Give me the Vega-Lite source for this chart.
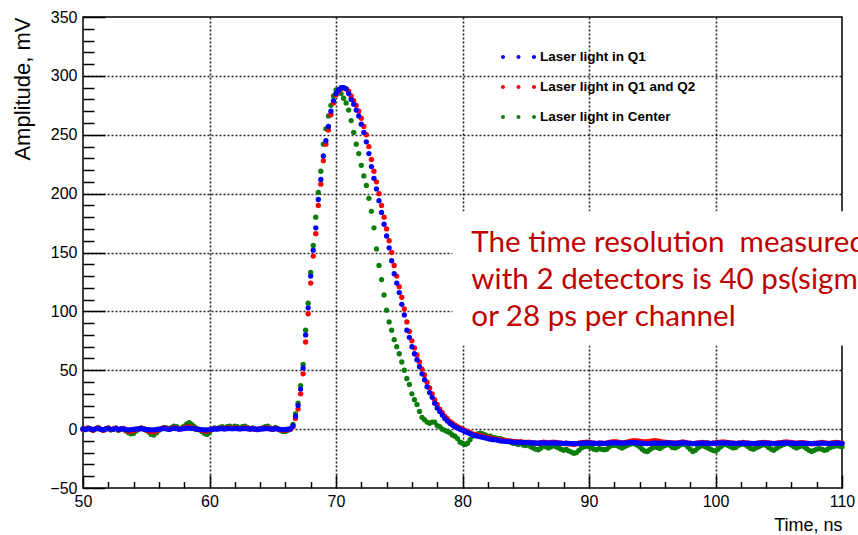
{
"$schema": "https://vega.github.io/schema/vega-lite/v6.json",
"width": 759, "height": 471,
"autosize": {"type": "none"},
"padding": {"left": 83, "top": 17, "right": 16, "bottom": 47},
"background": "white",
"config": {"view": {"stroke": "black", "strokeWidth": 1.5},
  "axis": {"labelFont": "Liberation Sans", "titleFont": "Liberation Sans", "labelColor": "black", "titleColor": "black", "tickColor": "black", "domain": false, "labelFlush": false, "labelOverlap": false, "labelBound": false}},
"datasets": {"w": [
{"t":50,"a":0.2,"b":-0.4,"c":0.5},{"t":50.2,"a":-0.3,"b":0.5,"c":-0.5},{"t":50.4,"a":0.4,"b":0.8,"c":1},{"t":50.6,"a":0.1,"b":-0.2,"c":0},{"t":50.8,"a":-0.4,"b":-0.9,"c":-1},
{"t":51,"a":0.3,"b":0.4,"c":0.5},{"t":51.2,"a":0.5,"b":1,"c":1.5},{"t":51.4,"a":-0.1,"b":-0.3,"c":0},{"t":51.6,"a":-0.5,"b":-1.1,"c":-1},{"t":51.8,"a":0.2,"b":0.2,"c":0.5},
{"t":52,"a":0.4,"b":0.9,"c":1},{"t":52.2,"a":-0.2,"b":-0.6,"c":-0.5},{"t":52.4,"a":0,"b":0.3,"c":0},{"t":52.6,"a":0.5,"b":0.7,"c":1},{"t":52.8,"a":-0.3,"b":-0.8,"c":-1},
{"t":53,"a":0.1,"b":0.1,"c":0},{"t":53.2,"a":0.3,"b":0.6,"c":0.5},{"t":53.4,"a":-0.4,"b":-1,"c":-1.5},{"t":53.6,"a":-0.6,"b":-1.5,"c":-3},{"t":53.8,"a":-0.5,"b":-1.8,"c":-4},
{"t":54,"a":-0.2,"b":-1.2,"c":-3.5},{"t":54.2,"a":0.1,"b":-0.4,"c":-1.5},{"t":54.4,"a":0.3,"b":0.3,"c":0},{"t":54.6,"a":0.4,"b":0.8,"c":1},{"t":54.8,"a":0,"b":0.2,"c":0.5},
{"t":55,"a":-0.3,"b":-0.7,"c":-1},{"t":55.2,"a":-0.5,"b":-1.4,"c":-2.5},{"t":55.4,"a":-0.7,"b":-2,"c":-4.5},{"t":55.6,"a":-0.6,"b":-2.2,"c":-5},{"t":55.8,"a":-0.3,"b":-1.3,"c":-3},
{"t":56,"a":0,"b":-0.4,"c":-1},{"t":56.2,"a":0.3,"b":0.5,"c":0.5},{"t":56.4,"a":0.5,"b":1,"c":1.5},{"t":56.6,"a":0.2,"b":0.6,"c":1},{"t":56.8,"a":-0.1,"b":-0.2,"c":0},
{"t":57,"a":0.3,"b":0.7,"c":1.5},{"t":57.2,"a":0.6,"b":1.2,"c":2.5},{"t":57.4,"a":0.4,"b":0.9,"c":2},{"t":57.6,"a":0,"b":0.1,"c":0.5},{"t":57.8,"a":0.2,"b":0.5,"c":1},
{"t":58,"a":0.5,"b":1.1,"c":2.5},{"t":58.2,"a":0.8,"b":1.6,"c":4.5},{"t":58.4,"a":0.9,"b":1.8,"c":5.5},{"t":58.6,"a":0.6,"b":1.3,"c":4},{"t":58.8,"a":0.3,"b":0.6,"c":2},
{"t":59,"a":0,"b":0,"c":0.5},{"t":59.2,"a":-0.2,"b":-0.5,"c":-0.5},{"t":59.4,"a":-0.4,"b":-1,"c":-2},{"t":59.6,"a":-0.6,"b":-1.4,"c":-3.5},{"t":59.8,"a":-0.7,"b":-1.6,"c":-4.5},
{"t":60,"a":-0.4,"b":-0.9,"c":-2.5},{"t":60.2,"a":-0.1,"b":-0.2,"c":-0.5},{"t":60.4,"a":0.2,"b":0.4,"c":1},{"t":60.6,"a":0.1,"b":0.2,"c":0.5},{"t":60.8,"a":0.3,"b":0.7,"c":1.5},
{"t":61,"a":0.4,"b":0.9,"c":2},{"t":61.2,"a":0.2,"b":0.4,"c":1},{"t":61.4,"a":0.4,"b":0.8,"c":2},{"t":61.6,"a":0.5,"b":1.1,"c":2.5},{"t":61.8,"a":0.3,"b":0.6,"c":1.5},
{"t":62,"a":0.5,"b":1,"c":2.5},{"t":62.2,"a":0.4,"b":0.9,"c":2},{"t":62.4,"a":0.2,"b":0.4,"c":1},{"t":62.6,"a":0.4,"b":0.8,"c":2},{"t":62.8,"a":0.5,"b":1.2,"c":2.5},
{"t":63,"a":0.3,"b":0.6,"c":1.5},{"t":63.2,"a":0.1,"b":0.2,"c":0.5},{"t":63.4,"a":0.2,"b":0.4,"c":1},{"t":63.6,"a":0,"b":-0.1,"c":0},{"t":63.8,"a":-0.1,"b":-0.3,"c":-0.5},
{"t":64,"a":0.1,"b":0.2,"c":0.5},{"t":64.2,"a":0.2,"b":0.5,"c":1},{"t":64.4,"a":0.4,"b":0.8,"c":2},{"t":64.6,"a":0.5,"b":1,"c":2.5},{"t":64.8,"a":0.2,"b":0.4,"c":1},
{"t":65,"a":0,"b":0,"c":0},{"t":65.2,"a":0.3,"b":0.6,"c":1.5},{"t":65.4,"a":0.1,"b":0.2,"c":0.5},{"t":65.6,"a":-0.2,"b":-0.5,"c":-1},{"t":65.8,"a":-0.4,"b":-0.9,"c":-2},
{"t":66,"a":-0.3,"b":-0.8,"c":-2},{"t":66.2,"a":-0.1,"b":-0.3,"c":-1},
{"t":66.4,"a":0.5,"b":0,"c":0},{"t":66.6,"a":3,"b":2,"c":4},{"t":66.8,"a":11,"b":9,"c":13},
{"t":67,"a":20,"b":17,"c":22},{"t":67.2,"a":34,"b":30,"c":37},{"t":67.4,"a":52,"b":47,"c":55},{"t":67.6,"a":80,"b":74,"c":84},{"t":67.8,"a":103,"b":98,"c":107},
{"t":68,"a":130,"b":124,"c":133},{"t":68.2,"a":152,"b":147,"c":156},{"t":68.4,"a":171,"b":166,"c":180},{"t":68.6,"a":195,"b":190,"c":201},{"t":68.8,"a":212,"b":208,"c":219},
{"t":69,"a":232,"b":228,"c":242},{"t":69.2,"a":245,"b":242,"c":255},{"t":69.4,"a":257,"b":254,"c":266},{"t":69.6,"a":270,"b":267,"c":275},{"t":69.8,"a":279,"b":277,"c":283},
{"t":70,"a":285,"b":284,"c":288},{"t":70.2,"a":288,"b":287,"c":288},{"t":70.4,"a":290,"b":289,"c":285},{"t":70.6,"a":290,"b":290,"c":281},{"t":70.8,"a":289,"b":289,"c":277},
{"t":71,"a":285,"b":287,"c":271},{"t":71.2,"a":280,"b":283,"c":262},{"t":71.4,"a":276,"b":279,"c":252},{"t":71.6,"a":271,"b":275,"c":242},{"t":71.8,"a":266,"b":270,"c":234},
{"t":72,"a":259,"b":264,"c":224},{"t":72.2,"a":252,"b":257,"c":215},{"t":72.4,"a":244,"b":250,"c":207},{"t":72.6,"a":234,"b":240,"c":196},{"t":72.8,"a":223,"b":229,"c":185},
{"t":73,"a":213,"b":219,"c":171},{"t":73.2,"a":204,"b":210,"c":153},{"t":73.4,"a":194,"b":200,"c":139},{"t":73.6,"a":184,"b":190,"c":127},{"t":73.8,"a":174,"b":180,"c":114},
{"t":74,"a":164,"b":170,"c":101},{"t":74.2,"a":154,"b":160,"c":91},{"t":74.4,"a":143,"b":150,"c":84},{"t":74.6,"a":132,"b":139,"c":76},{"t":74.8,"a":124,"b":130,"c":70},
{"t":75,"a":116,"b":121,"c":64},{"t":75.2,"a":106,"b":112,"c":57},{"t":75.4,"a":97,"b":102,"c":50},{"t":75.6,"a":84,"b":91,"c":43},{"t":75.8,"a":78,"b":83,"c":38},
{"t":76,"a":70,"b":75,"c":30},{"t":76.2,"a":64,"b":69,"c":25},{"t":76.4,"a":59,"b":63,"c":21},{"t":76.6,"a":53,"b":57,"c":15},{"t":76.8,"a":47,"b":51,"c":10},
{"t":77,"a":42,"b":46,"c":8},{"t":77.2,"a":36,"b":40,"c":6},{"t":77.4,"a":31,"b":35,"c":5},{"t":77.6,"a":27,"b":30,"c":6},{"t":77.8,"a":22,"b":25,"c":6},
{"t":78,"a":18,"b":21,"c":3},{"t":78.2,"a":15,"b":17,"c":2},{"t":78.4,"a":12,"b":14,"c":0},{"t":78.6,"a":9,"b":11,"c":-1},{"t":78.8,"a":7,"b":9,"c":-2},
{"t":79,"a":5,"b":6.5,"c":-3},{"t":79.2,"a":3.5,"b":5,"c":-5},{"t":79.4,"a":2,"b":3.5,"c":-6},{"t":79.6,"a":1,"b":2,"c":-8},{"t":79.8,"a":0,"b":1,"c":-11},
{"t":80,"a":-1,"b":0,"c":-12},{"t":80.2,"a":-2,"b":-1,"c":-13},{"t":80.4,"a":-3,"b":-2,"c":-12},{"t":80.6,"a":-4,"b":-3,"c":-9},{"t":80.8,"a":-5,"b":-4,"c":-6},
{"t":81,"a":-5.5,"b":-4.5,"c":-5},{"t":81.2,"a":-6,"b":-5,"c":-4},{"t":81.4,"a":-6.5,"b":-5.5,"c":-3.5},{"t":81.6,"a":-7,"b":-6,"c":-4},{"t":81.8,"a":-7.5,"b":-6.5,"c":-5},
{"t":82,"a":-8,"b":-7,"c":-6},{"t":82.2,"a":-8.5,"b":-7.5,"c":-6},{"t":82.4,"a":-9,"b":-8,"c":-7},{"t":82.6,"a":-9,"b":-8.5,"c":-7.5},{"t":82.8,"a":-9.5,"b":-9,"c":-8},
{"t":83,"a":-10,"b":-9,"c":-8},{"t":83.2,"a":-10.2,"b":-9.4,"c":-9},{"t":83.4,"a":-10.4,"b":-9.7,"c":-9.5},{"t":83.6,"a":-10.6,"b":-10,"c":-10},{"t":83.8,"a":-10.8,"b":-10.2,"c":-11},
{"t":84,"a":-11,"b":-10.4,"c":-12},{"t":84.2,"a":-11.1,"b":-10.6,"c":-12},{"t":84.4,"a":-11.2,"b":-10.9,"c":-13},{"t":84.6,"a":-11.2,"b":-10.7,"c":-12},{"t":84.8,"a":-11.4,"b":-11,"c":-13.5},
{"t":85,"a":-11.5,"b":-11.2,"c":-14},{"t":85.2,"a":-11.4,"b":-11.1,"c":-13},{"t":85.4,"a":-11.6,"b":-11.3,"c":-15},{"t":85.6,"a":-11.7,"b":-11.6,"c":-16},{"t":85.8,"a":-11.8,"b":-11.9,"c":-17},
{"t":86,"a":-11.9,"b":-12,"c":-17.5},{"t":86.2,"a":-11.8,"b":-11.5,"c":-16},{"t":86.4,"a":-11.6,"b":-11,"c":-14},{"t":86.6,"a":-11.7,"b":-11.2,"c":-15},{"t":86.8,"a":-11.9,"b":-11.6,"c":-16},
{"t":87,"a":-11.8,"b":-11.3,"c":-15},{"t":87.2,"a":-11.6,"b":-11,"c":-14},{"t":87.4,"a":-11.8,"b":-11.3,"c":-15},{"t":87.6,"a":-11.9,"b":-11.7,"c":-16},{"t":87.8,"a":-12,"b":-12,"c":-17},
{"t":88,"a":-12.1,"b":-12.3,"c":-18},{"t":88.2,"a":-12,"b":-12,"c":-17},{"t":88.4,"a":-12.2,"b":-12.4,"c":-18.5},{"t":88.6,"a":-12.3,"b":-12.7,"c":-19.5},{"t":88.8,"a":-12.4,"b":-12.9,"c":-20.5},
{"t":89,"a":-12.3,"b":-12.6,"c":-20},{"t":89.2,"a":-12.1,"b":-12,"c":-18},{"t":89.4,"a":-11.9,"b":-11.5,"c":-16},{"t":89.6,"a":-11.8,"b":-11.2,"c":-15},{"t":89.8,"a":-11.7,"b":-11,"c":-14.5},
{"t":90,"a":-11.8,"b":-11.3,"c":-15},{"t":90.2,"a":-11.9,"b":-11.7,"c":-16},{"t":90.4,"a":-12,"b":-12,"c":-17},{"t":90.6,"a":-12.1,"b":-12.2,"c":-17.5},{"t":90.8,"a":-12,"b":-11.9,"c":-16.5},
{"t":91,"a":-12,"b":-12,"c":-17},{"t":91.2,"a":-12.1,"b":-12.2,"c":-17.5},{"t":91.4,"a":-12,"b":-12,"c":-17},{"t":91.6,"a":-11.8,"b":-11.3,"c":-15},{"t":91.8,"a":-11.6,"b":-10.9,"c":-14},
{"t":92,"a":-11.5,"b":-10.6,"c":-13.5},{"t":92.2,"a":-11.6,"b":-10.9,"c":-14},{"t":92.4,"a":-11.8,"b":-11.3,"c":-15},{"t":92.6,"a":-11.9,"b":-11.7,"c":-16},{"t":92.8,"a":-11.8,"b":-11.4,"c":-15},
{"t":93,"a":-11.6,"b":-11,"c":-14},{"t":93.2,"a":-11.5,"b":-10.5,"c":-13},{"t":93.4,"a":-11.4,"b":-10,"c":-12},{"t":93.6,"a":-11.5,"b":-9.8,"c":-12.5},{"t":93.8,"a":-11.6,"b":-10,"c":-13.5},
{"t":94,"a":-11.8,"b":-10.3,"c":-15},{"t":94.2,"a":-12,"b":-10.6,"c":-17},{"t":94.4,"a":-12.2,"b":-10.9,"c":-18.5},{"t":94.6,"a":-12.3,"b":-10.7,"c":-19},{"t":94.8,"a":-12.1,"b":-10.4,"c":-17.5},
{"t":95,"a":-11.9,"b":-10,"c":-16},{"t":95.2,"a":-11.8,"b":-9.8,"c":-15},{"t":95.4,"a":-11.9,"b":-10.1,"c":-15.5},{"t":95.6,"a":-12,"b":-10.5,"c":-16.5},{"t":95.8,"a":-11.9,"b":-10.8,"c":-15},
{"t":96,"a":-11.8,"b":-11,"c":-14},{"t":96.2,"a":-11.6,"b":-11.2,"c":-13},{"t":96.4,"a":-11.7,"b":-11.4,"c":-14},{"t":96.6,"a":-11.9,"b":-11.7,"c":-15.5},{"t":96.8,"a":-12,"b":-12,"c":-16},
{"t":97,"a":-11.9,"b":-11.6,"c":-15},{"t":97.2,"a":-11.7,"b":-11.2,"c":-13.5},{"t":97.4,"a":-11.6,"b":-10.9,"c":-12.5},{"t":97.6,"a":-11.7,"b":-11.2,"c":-13},{"t":97.8,"a":-11.9,"b":-11.6,"c":-15},
{"t":98,"a":-12.1,"b":-12,"c":-17},{"t":98.2,"a":-12.3,"b":-12.4,"c":-19},{"t":98.4,"a":-12.2,"b":-12.1,"c":-18},{"t":98.6,"a":-12,"b":-11.7,"c":-16},{"t":98.8,"a":-11.9,"b":-11.4,"c":-14.5},
{"t":99,"a":-11.8,"b":-11.2,"c":-14},{"t":99.2,"a":-11.9,"b":-11.5,"c":-15},{"t":99.4,"a":-12,"b":-11.8,"c":-16},{"t":99.6,"a":-12.1,"b":-12.1,"c":-17},{"t":99.8,"a":-12,"b":-11.9,"c":-18},
{"t":100,"a":-11.9,"b":-11.6,"c":-18.5},{"t":100.2,"a":-11.8,"b":-11.3,"c":-17},{"t":100.4,"a":-11.7,"b":-11,"c":-15},{"t":100.6,"a":-11.6,"b":-10.8,"c":-13.5},{"t":100.8,"a":-11.7,"b":-11.1,"c":-13},
{"t":101,"a":-11.8,"b":-11.4,"c":-14},{"t":101.2,"a":-11.9,"b":-11.7,"c":-15},{"t":101.4,"a":-12,"b":-12,"c":-16},{"t":101.6,"a":-12.1,"b":-12.2,"c":-15.5},{"t":101.8,"a":-12,"b":-11.9,"c":-14},
{"t":102,"a":-11.9,"b":-11.6,"c":-13},{"t":102.2,"a":-11.8,"b":-11.3,"c":-12.5},{"t":102.4,"a":-11.9,"b":-11.6,"c":-13.5},{"t":102.6,"a":-12,"b":-11.9,"c":-15},{"t":102.8,"a":-12.1,"b":-12.2,"c":-16.5},
{"t":103,"a":-12.2,"b":-12.4,"c":-17},{"t":103.2,"a":-12.1,"b":-12.1,"c":-16},{"t":103.4,"a":-12,"b":-11.8,"c":-15},{"t":103.6,"a":-11.9,"b":-11.5,"c":-14},{"t":103.8,"a":-11.8,"b":-11.2,"c":-13},
{"t":104,"a":-11.9,"b":-11.4,"c":-14},{"t":104.2,"a":-12,"b":-11.7,"c":-15.5},{"t":104.4,"a":-12.1,"b":-12,"c":-17},{"t":104.6,"a":-12.2,"b":-12.3,"c":-18},{"t":104.8,"a":-12.1,"b":-12,"c":-16.5},
{"t":105,"a":-12,"b":-11.7,"c":-15},{"t":105.2,"a":-11.9,"b":-11.4,"c":-14},{"t":105.4,"a":-11.8,"b":-11.1,"c":-13},{"t":105.6,"a":-11.7,"b":-10.8,"c":-12},{"t":105.8,"a":-11.8,"b":-11,"c":-12.5},
{"t":106,"a":-11.9,"b":-11.3,"c":-13.5},{"t":106.2,"a":-12,"b":-11.6,"c":-15},{"t":106.4,"a":-12.1,"b":-11.9,"c":-16},{"t":106.6,"a":-12,"b":-11.7,"c":-15},{"t":106.8,"a":-11.9,"b":-11.4,"c":-14},
{"t":107,"a":-12,"b":-11.7,"c":-15},{"t":107.2,"a":-12.1,"b":-12,"c":-16.5},{"t":107.4,"a":-12.2,"b":-12.3,"c":-18},{"t":107.6,"a":-12.3,"b":-12.5,"c":-19},{"t":107.8,"a":-12.2,"b":-12.2,"c":-18},
{"t":108,"a":-12.1,"b":-11.9,"c":-17},{"t":108.2,"a":-12,"b":-11.6,"c":-16.5},{"t":108.4,"a":-11.9,"b":-11.3,"c":-17},{"t":108.6,"a":-12,"b":-11.6,"c":-18},{"t":108.8,"a":-12.1,"b":-11.9,"c":-17.5},
{"t":109,"a":-12.2,"b":-12.1,"c":-16},{"t":109.2,"a":-12.1,"b":-11.8,"c":-15},{"t":109.4,"a":-12,"b":-11.5,"c":-14.5},{"t":109.6,"a":-11.9,"b":-11.3,"c":-14},{"t":109.8,"a":-12,"b":-11.6,"c":-14.5},
{"t":110,"a":-12.1,"b":-11.9,"c":-15}
]},
"layer": [
 {"data": {"name": "w"}, "transform": [{"fold": ["c"], "as": ["key", "v"]}],
  "mark": {"type": "point", "filled": true, "size": 28, "opacity": 1},
  "encoding": {
   "x": {"field": "t", "type": "quantitative", "scale": {"domain": [50, 110], "nice": false, "zero": false},
    "axis": {"values": [50,52,54,56,58,60,62,64,66,68,70,72,74,76,78,80,82,84,86,88,90,92,94,96,98,100,102,104,106,108,110],
     "tickCount": 200, "format": "d",
     "labelExpr": "datum.value % 10 === 0 ? datum.label : ''",
     "labelOverlap": false, "labelFlush": false, "labelBound": false,
     "tickSize": {"condition": {"test": "datum.value % 10 === 0", "value": -13}, "value": -6.5},
     "tickWidth": 1.5,
     "grid": true, "gridColor": "black", "gridDash": [2, 2], "gridWidth": 1.6,
     "gridOpacity": {"condition": {"test": "datum.value % 10 === 0 && datum.value > 50 && datum.value < 110", "value": 0.85}, "value": 0},
     "labelFontSize": 16, "labelPadding": 18,
     "title": "Time, ns", "titleFontSize": 18, "titleFontWeight": "normal", "titleAnchor": "end", "titleAlign": "right", "titleBaseline": "alphabetic", "titleX": 759, "titleY": 42}},
   "y": {"field": "v", "type": "quantitative", "scale": {"domain": [-50, 350], "nice": false, "zero": false},
    "axis": {"values": [-50,-40,-30,-20,-10,0,10,20,30,40,50,60,70,80,90,100,110,120,130,140,150,160,170,180,190,200,210,220,230,240,250,260,270,280,290,300,310,320,330,340,350],
     "tickCount": 200, "format": "d",
     "labelExpr": "datum.value % 50 === 0 ? datum.label : ''",
     "labelOverlap": false, "labelFlush": false, "labelBound": false,
     "tickSize": {"condition": {"test": "datum.value % 50 === 0", "value": -22}, "value": -11},
     "tickWidth": 1.5,
     "grid": true, "gridColor": "black", "gridDash": [2, 2], "gridWidth": 1.6,
     "gridOpacity": {"condition": {"test": "datum.value % 50 === 0 && datum.value > -50 && datum.value < 350", "value": 0.85}, "value": 0},
     "labelFontSize": 16, "labelPadding": 28,
     "title": "Amplitude, mV", "titleFontSize": 22, "titleFontWeight": "normal", "titleAngle": -90, "titleAlign": "right", "titleBaseline": "alphabetic", "titleX": -54, "titleY": 0}},
   "color": {"field": "key", "type": "nominal",
    "scale": {"domain": ["a", "b", "c"], "range": ["#0000ff", "#ff0000", "#0a7d0a"]},
    "legend": {"orient": "none", "legendX": 420, "legendY": 24.5, "title": null, "padding": 0, "rowPadding": 8,
     "symbolType": "M-1.13,0a0.13,0.13 0 1,0 0.26,0a0.13,0.13 0 1,0 -0.26,0M-0.13,0a0.13,0.13 0 1,0 0.26,0a0.13,0.13 0 1,0 -0.26,0M0.87,0a0.13,0.13 0 1,0 0.26,0a0.13,0.13 0 1,0 -0.26,0Z",
     "symbolSize": 961, "symbolStrokeWidth": 0,
     "labelFont": "Liberation Sans", "labelFontSize": 13.5, "labelFontWeight": "bold", "labelOffset": 6,
     "labelExpr": "datum.value === 'a' ? 'Laser light in Q1' : datum.value === 'b' ? 'Laser light in Q1 and Q2' : 'Laser light in Center'",
     "encode": {"labels": {"update": {"fill": {"scale": "color", "field": "value"}}}}}}
  }},
 {"data": {"name": "w"}, "transform": [{"fold": ["b"], "as": ["key", "v"]}],
  "mark": {"type": "point", "filled": true, "size": 28, "opacity": 1},
  "encoding": {"x": {"field": "t", "type": "quantitative"}, "y": {"field": "v", "type": "quantitative"}, "color": {"field": "key", "type": "nominal"}}},
 {"data": {"name": "w"}, "transform": [{"fold": ["a"], "as": ["key", "v"]}],
  "mark": {"type": "point", "filled": true, "size": 28, "opacity": 1},
  "encoding": {"x": {"field": "t", "type": "quantitative"}, "y": {"field": "v", "type": "quantitative"}, "color": {"field": "key", "type": "nominal"}}},
 {"data": {"values": [{}]},
  "mark": {"type": "rect", "fill": "white", "stroke": null},
  "encoding": {"x": {"datum": 79.2}, "x2": {"datum": 113}, "y": {"datum": 71}, "y2": {"datum": 185}}},
 {"data": {"values": [{"note": "The time resolution\u00a0 measured\nwith 2 detectors is 40 ps(sigma)\nor 28 ps per channel"}]},
  "mark": {"type": "text", "font": "Lato", "fontSize": 29.6, "color": "#c00000", "align": "left", "baseline": "alphabetic", "lineBreak": "\n", "lineHeight": 37},
  "encoding": {"x": {"datum": 80.7}, "y": {"datum": 150.4}, "text": {"field": "note", "type": "nominal"}}}
]
}
